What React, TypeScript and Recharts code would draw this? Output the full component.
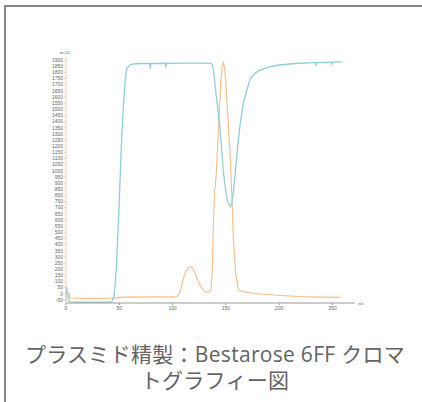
import { Line, LineChart, XAxis, YAxis } from 'recharts';

// UV trace (teal) — elution volume in ml, absorbance in mAU
const uvMl = [
  0, 0.4, 1.2, 2.5, 4, 20, 40, 43, 45, 46.5, 47.6, 49, 50.7, 52, 53.8, 55.5, 57, 60, 63, 70, 78.5, 79, 79.5, 93,
  93.6, 94.2, 110, 130, 136, 137.5, 138.5, 141, 144, 147.7, 150, 152, 154, 155.5, 157, 158.7, 161, 163.4, 166,
  169.6, 172.8, 177, 182, 191.5, 200, 215, 232, 234.2, 234.4, 234.8, 248.8, 249, 249.5, 259,
];
const uvMAU = [
  -65, 58, 20, -55, -68, -68, -68, -65, -20, 120, 275, 550, 925, 1230, 1521, 1740, 1833, 1860, 1868, 1872, 1872,
  1832, 1872, 1874, 1840, 1874, 1876, 1876, 1874, 1860, 1800, 1600, 1386, 980, 820, 740, 708, 730, 830, 980, 1200,
  1386, 1540, 1657, 1752, 1790, 1819, 1846, 1860, 1872, 1879, 1879, 1852, 1880, 1883, 1858, 1883, 1886,
];

// second trace (orange)
const peakMl = [
  0, 3, 3.8, 20, 45, 55, 80, 100, 104, 106, 108, 110, 112, 114.5, 116.6, 118.5, 121, 124, 127, 130, 132, 134.5,
  136, 137.3, 138.3, 139.3, 140, 141, 143, 145, 146.5, 147.7, 149, 151, 152.5, 153.5, 154, 155.5, 157, 159, 161.6,
  165, 169.6, 180, 194.7, 210, 226, 240, 257,
];
const peakMAU = [
  5, 5, -35, -37, -35, -27, -25, -25, -22, -5, 50, 120, 175, 210, 220, 212, 170, 100, 50, 20, 12, 17, 40, 200, 600,
  844, 870, 1000, 1350, 1700, 1850, 1879, 1820, 1550, 1330, 1200, 1114, 800, 437, 180, 30, 20, 10, 0, -10, -18, -24,
  -27, -29,
];

const xTicks = [0, 50, 100, 150, 200, 250];
const yTicks = Array.from({ length: 40 }, (_, i) => -50 + i * 50);

const uvData = uvMl.map((ml, i) => ({ ml, v: uvMAU[i] }));
const peakData = peakMl.map((ml, i) => ({ ml, v: peakMAU[i] }));

const tickStyle = { fontSize: 5, fill: '#666', fontFamily: '"Liberation Sans", Arial, sans-serif' };

export default function App() {
  return (
    <div style={{ position: 'fixed', left: 0, top: 0, width: 422, height: 402, background: '#fff', overflow: 'hidden' }}>
      <div
        style={{
          position: 'absolute',
          left: 4,
          top: 5,
          width: 416,
          height: 395,
          borderTop: '2px solid #8b8580',
          borderLeft: '2px solid #8b8580',
        }}
      />
      <div style={{ position: 'absolute', left: 0, top: 0 }}>
        <LineChart width={422} height={330} margin={{ top: 57, right: 67, left: 0, bottom: 0 }}>
          <XAxis
            dataKey="ml"
            type="number"
            domain={[0, 271]}
            ticks={xTicks}
            interval={0}
            height={27}
            tick={tickStyle}
            tickSize={2}
            tickMargin={1}
            stroke="#999"
            allowDuplicatedCategory={false}
            label={{ value: 'ml', position: 'right', dy: -13.5, offset: 3, fontSize: 5, fill: '#666' }}
          />
          <YAxis
            type="number"
            domain={[-75, 1925]}
            ticks={yTicks}
            interval={0}
            width={66}
            tick={tickStyle}
            tickSize={2}
            tickMargin={1}
            stroke="#ecd2b4"
            label={{ value: 'mAU', position: 'top', dx: 32, offset: 3, fontSize: 5, fill: '#666' }}
          />
          <Line
            data={peakData}
            dataKey="v"
            type="linear"
            stroke="#f6bd88"
            strokeWidth={1.1}
            dot={false}
            isAnimationActive={false}
          />
          <Line
            data={uvData}
            dataKey="v"
            type="linear"
            stroke="#8fcfd6"
            strokeWidth={1.3}
            dot={false}
            isAnimationActive={false}
          />
        </LineChart>
      </div>
      <div
        style={{
          position: 'absolute',
          left: 4,
          top: 341,
          width: 422,
          textAlign: 'center',
          fontSize: 21,
          letterSpacing: 0.3,
          lineHeight: '26px',
          color: '#636363',
          fontFamily: '"Open Sans", "Noto Sans CJK JP", sans-serif',
          whiteSpace: 'nowrap',
        }}
      >
        プラスミド精製：Bestarose 6FF クロマ
        <br />
        トグラフィー図
      </div>
    </div>
  );
}
